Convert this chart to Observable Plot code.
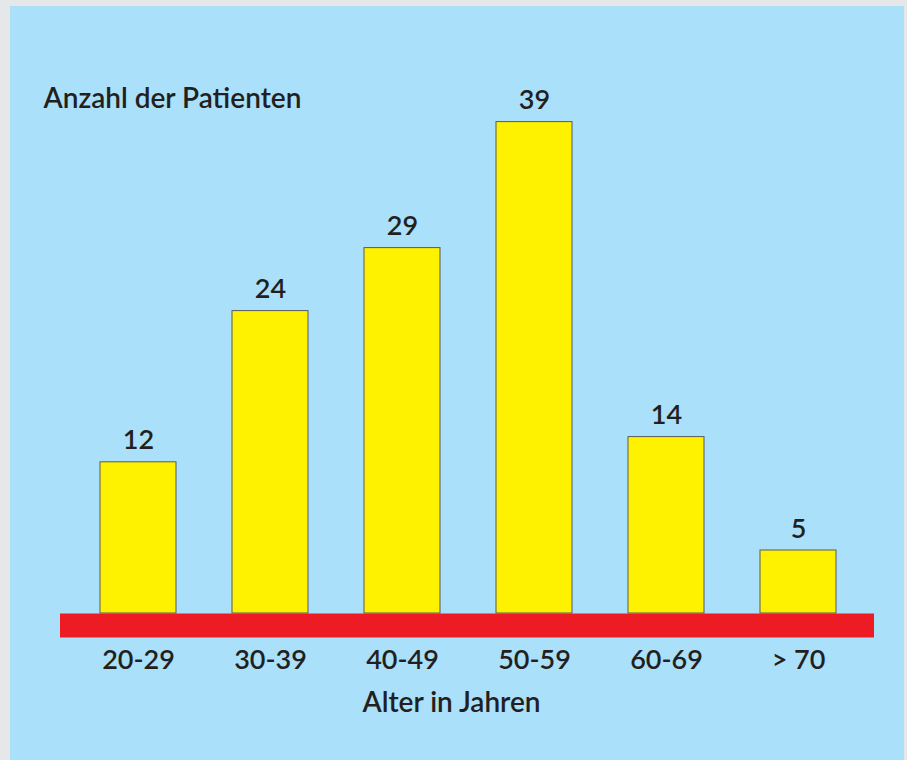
<!DOCTYPE html>
<html>
<head>
<meta charset="utf-8">
<script src="https://cdn.jsdelivr.net/npm/d3@7"></script>
<script src="https://cdn.jsdelivr.net/npm/@observablehq/plot@0.6"></script>
<style>
  html, body { margin: 0; padding: 0; width: 907px; height: 760px; overflow: hidden; background: #e6e7e8; }
  #panel { position: absolute; left: 10px; top: 6px; width: 894px; height: 760px; background: #aae0fa; }
  #chart { position: absolute; left: 0; top: 0; }
  #chart svg { background: transparent; }
</style>
</head>
<body>
<div id="panel"></div>
<div id="chart"></div>
<script>
const categories = ["20-29", "30-39", "40-49", "50-59", "60-69", "> 70"];
const counts = [12, 24, 29, 39, 14, 5];
const yTitle = "Anzahl der Patienten";
const xTitle = "Alter in Jahren";

const data = categories.map((c, i) => ({age: c, n: counts[i]}));
const font = "Lato, 'Open Sans', sans-serif";
const ink = "#231f20";

const chart = Plot.plot({
  width: 907,
  height: 760,
  marginLeft: 44,
  marginRight: 15,
  marginTop: 109,
  marginBottom: 147,
  style: {background: "transparent", fontFamily: font, color: ink},
  x: {domain: categories, range: [44, 892], padding: 0.424, label: null},
  y: {domain: [0, 40], range: [613, 109], axis: null},
  marks: [
    Plot.barY(data, {x: "age", y: "n", fill: "#fff200", stroke: "#58595b", strokeWidth: 1}),
    Plot.ruleY([0], {stroke: "#ed1c24", strokeWidth: 24, dy: 12, insetLeft: 16, insetRight: 18}),
    Plot.text(data, {x: "age", y: "n", text: d => String(d.n), dy: -13, lineAnchor: "bottom", fontSize: 27, fontWeight: 600, fill: ink}),
    Plot.axisX({tickSize: 0, tickPadding: 36, fontSize: 27, fontWeight: 600, fill: ink, label: null}),
    Plot.text([yTitle], {frameAnchor: "top-left", text: d => d, textAnchor: "start", lineAnchor: "bottom", dx: -1, dy: -2, fontSize: 28, fontWeight: 600, fill: ink}),
    Plot.text([xTitle], {frameAnchor: "bottom", text: d => d, lineAnchor: "bottom", dx: -17, dy: 98, fontSize: 28, fontWeight: 600, fill: ink})
  ]
});
document.getElementById("chart").appendChild(chart);
</script>
</body>
</html>
